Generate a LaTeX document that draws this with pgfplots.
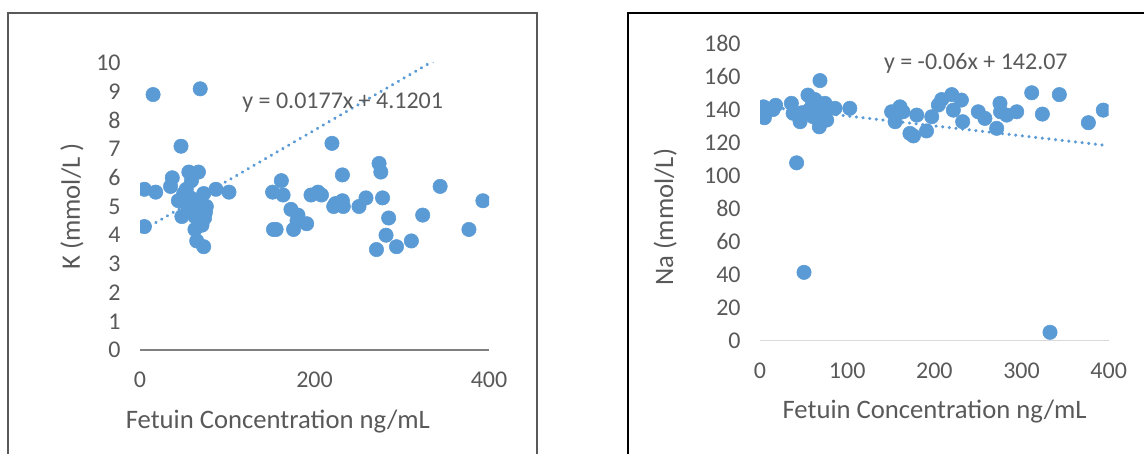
\documentclass[border=0pt]{standalone}
\usepackage{pgfplots}
\pgfplotsset{compat=1.18}
\usepackage{fontspec}
\setmainfont{Carlito}
\definecolor{dotblue}{HTML}{5B9BD5}
\definecolor{txt}{HTML}{595959}
\pgfplotstableread{
x y
15 8.9
69 9.1
47 7.1
220 7.2
5 5.6
18 5.5
5 4.3
37 6.0
35 5.7
56 6.2
67 6.2
59 5.9
87 5.6
102 5.5
73 5.45
50 5.45
53 5.6
44 5.2
47 5.2
55 5.0
66 5.1
76 5.0
53 5.1
48 4.65
63 4.65
74 4.6
63 4.2
71 4.35
65 3.8
73 3.6
60 4.8
70 4.9
58 5.3
75 4.8
162 5.9
152 5.5
164 5.4
173 4.9
181 4.7
180 4.5
153 4.2
156 4.2
176 4.2
191 4.4
196 5.4
204 5.5
208 5.4
232 6.1
222 5.0
224 5.1
232 5.2
233 5.0
251 5.0
259 5.3
274 6.5
276 6.2
278 5.3
285 4.6
282 4.0
271 3.5
294 3.6
311 3.8
324 4.7
344 5.7
377 4.2
393 5.2
}\Kdata
\pgfplotstableread{
x y
4 141.6
5 135
18 142.5
15 140
36 143.7
38 137.7
42 107.7
50.5 41.4
46 132.6
55 148.7
57 140
52 138
61 135.6
65 141.5
60 145
68.8 157.5
68 129.5
74.5 143.7
76.5 133.6
70 138
86 140.7
103 140.7
63 146
48 138
72 140
151 138.6
155 132.6
160.6 141.6
164 138.6
179.8 136.6
172 125.5
176 124
191 127
197 135.6
204.6 142.7
208.4 146
220 149
221.8 139.6
231 145.7
232.5 132.6
250.4 138.6
258 134.6
271.5 128.6
275.3 143.7
276 138.6
283 136.6
294.5 138.6
311.7 150.1
323.9 137.2
332.7 5.1
343.4 149
376.7 132
393.8 139.6
}\Nadata
\pgfplotsset{
  common/.style={
    scale only axis,
    axis lines*=left,
    y axis line style={draw=none},
    major tick length=0pt,
    tick style={draw=none},
    clip marker paths=true,
    xmin=0, xmax=400,
    ticklabel style={font=\fontsize{18}{21}\selectfont, text=txt},
    label style={font=\fontsize{20}{24}\selectfont, text=txt},
    /pgf/number format/assume math mode=true,
    yticklabel style={xshift=-11pt},
    xticklabel style={yshift=-13pt},
  },
  pts/.style={only marks, mark=*, mark size=5.4pt, mark options={draw=dotblue, fill=dotblue}},
  trend/.style={no marks, dotblue, line width=2.6pt, line cap=round, dash pattern=on 0.01pt off 5pt},
}
\begin{document}
\begin{tikzpicture}
\useasboundingbox (0,0) rectangle (858pt,339.75pt);
\draw[line width=1.2pt, color=txt] (6pt,-5pt) -- (6pt,330pt) -- (402.75pt,330pt) -- (402.75pt,-5pt);
\draw[line width=1.2pt, color=black] (471pt,-5pt) -- (471pt,330pt) -- (865pt,330pt);
\begin{axis}[common,
  at={(105pt,77.25pt)}, anchor=south west,
  width=261.75pt, height=215.25pt,
  ymin=0, ymax=10,
  xtick={0,200,400}, ytick={0,1,...,10},
  x axis line style={draw=gray, line width=1pt},
  xlabel={Fetuin Concentration ng/mL},
  ylabel={K (mmol/L )},
  xlabel style={at={(axis description cs:0.395,-0.25)}, anchor=center},
  ylabel style={at={(axis description cs:-0.195,0.5)}, anchor=center},
]
\addplot[pts] table {\Kdata};
\addplot[trend] coordinates {(5,4.2086) (393,11.0762)};
\node[font=\fontsize{18}{21}\selectfont, text=txt] at (axis cs:232.3,8.62) {y = 0.0177x + 4.1201};
\end{axis}
\begin{axis}[common,
  at={(570pt,84.2pt)}, anchor=south west,
  width=261.5pt, height=223pt,
  ymin=0, ymax=180,
  xtick={0,100,...,400}, ytick={0,20,...,180},
  x axis line style={draw=black!15, line width=1pt},
  xlabel={Fetuin Concentration ng/mL},
  ylabel={Na (mmol/L)},
  xlabel style={at={(axis description cs:0.501,-0.239)}, anchor=center},
  ylabel style={at={(axis description cs:-0.272,0.416)}, anchor=center},
]
\addplot[pts] table {\Nadata};
\addplot[trend] coordinates {(4,141.83) (394,118.43)};
\node[font=\fontsize{18}{21}\selectfont, text=txt] at (axis cs:247.6,167.9) {y = -0.06x + 142.07};
\end{axis}
\end{tikzpicture}
\end{document}
